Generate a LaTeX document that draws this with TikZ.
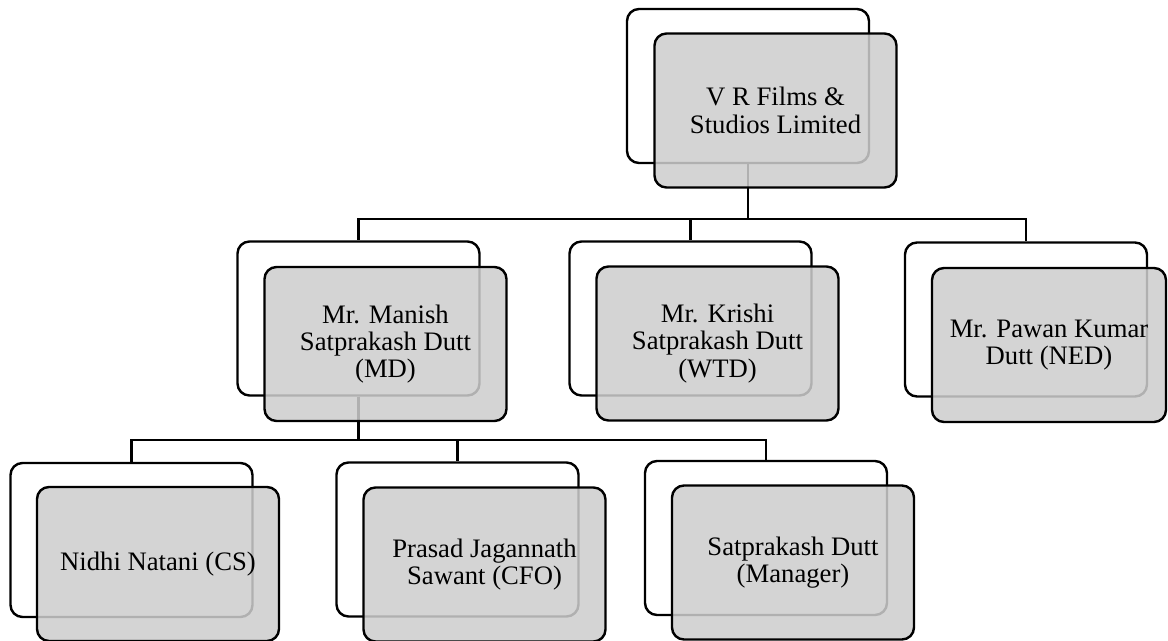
\documentclass[tikz,border=0pt]{standalone}
\usepackage{fontspec}
\setmainfont{Liberation Serif}
\definecolor{boxgray}{RGB}{205,205,205}
\begin{document}
\begin{tikzpicture}[x=0.75pt,y=-0.75pt,
  back/.style={draw=black,line width=1.8pt,fill=white,rounded corners=9pt,
    minimum width=181.5pt,minimum height=115.5pt,inner sep=0pt},
  front/.style={draw=black,line width=1.8pt,fill=boxgray,fill opacity=0.86,
    draw opacity=1,text opacity=1,rounded corners=9pt,
    minimum width=181.5pt,minimum height=115.5pt,inner sep=0pt,align=center,
    font=\fontsize{20}{20.5}\selectfont},
  conn/.style={line width=1.8pt}]
\useasboundingbox (0,0) rectangle (1168,641);
% back boxes
\node[back] (vrb) at (748,86) {};
\node[back] (mdb) at (358.5,318.5) {};
\node[back] (wtdb) at (690.5,318.5) {};
\node[back] (nedb) at (1026,319.5) {};
\node[back] (csb) at (131.5,540) {};
\node[back] (cfob) at (457.5,539.5) {};
\node[back] (mgrb) at (766,538) {};
% buses
\coordinate (bus1) at (748,219);
\coordinate (bus2) at (358.5,440);
% connectors
\draw[conn] (vrb.south) -- (bus1) -| (mdb.north);
\draw[conn] (bus1) -| (wtdb.north);
\draw[conn] (bus1) -| (nedb.north);
\draw[conn] (mdb.south) -- (bus2) -| (csb.north);
\draw[conn] (bus2) -| (cfob.north);
\draw[conn] (bus2) -| (mgrb.north);
% front boxes
\node[front] (vr) at (775.5,110.5) {V R Films \&\\Studios Limited};
\node[front] (md) at (385.5,344) {Mr. Manish\\Satprakash Dutt\\(MD)};
\node[front] (wtd) at (717.5,343.5) {Mr. Krishi\\Satprakash Dutt\\(WTD)};
\node[front,minimum width=175.5pt] (ned) at (1049,345) {Mr. Pawan Kumar\\Dutt (NED)};
\node[front] (cs) at (158,564) {Nidhi Natani (CS)};
\node[front] (cfo) at (484.5,564.5) {Prasad Jagannath\\Sawant (CFO)};
\node[front] (mgr) at (793,562.5) {Satprakash Dutt\\(Manager)};
\end{tikzpicture}
\end{document}
